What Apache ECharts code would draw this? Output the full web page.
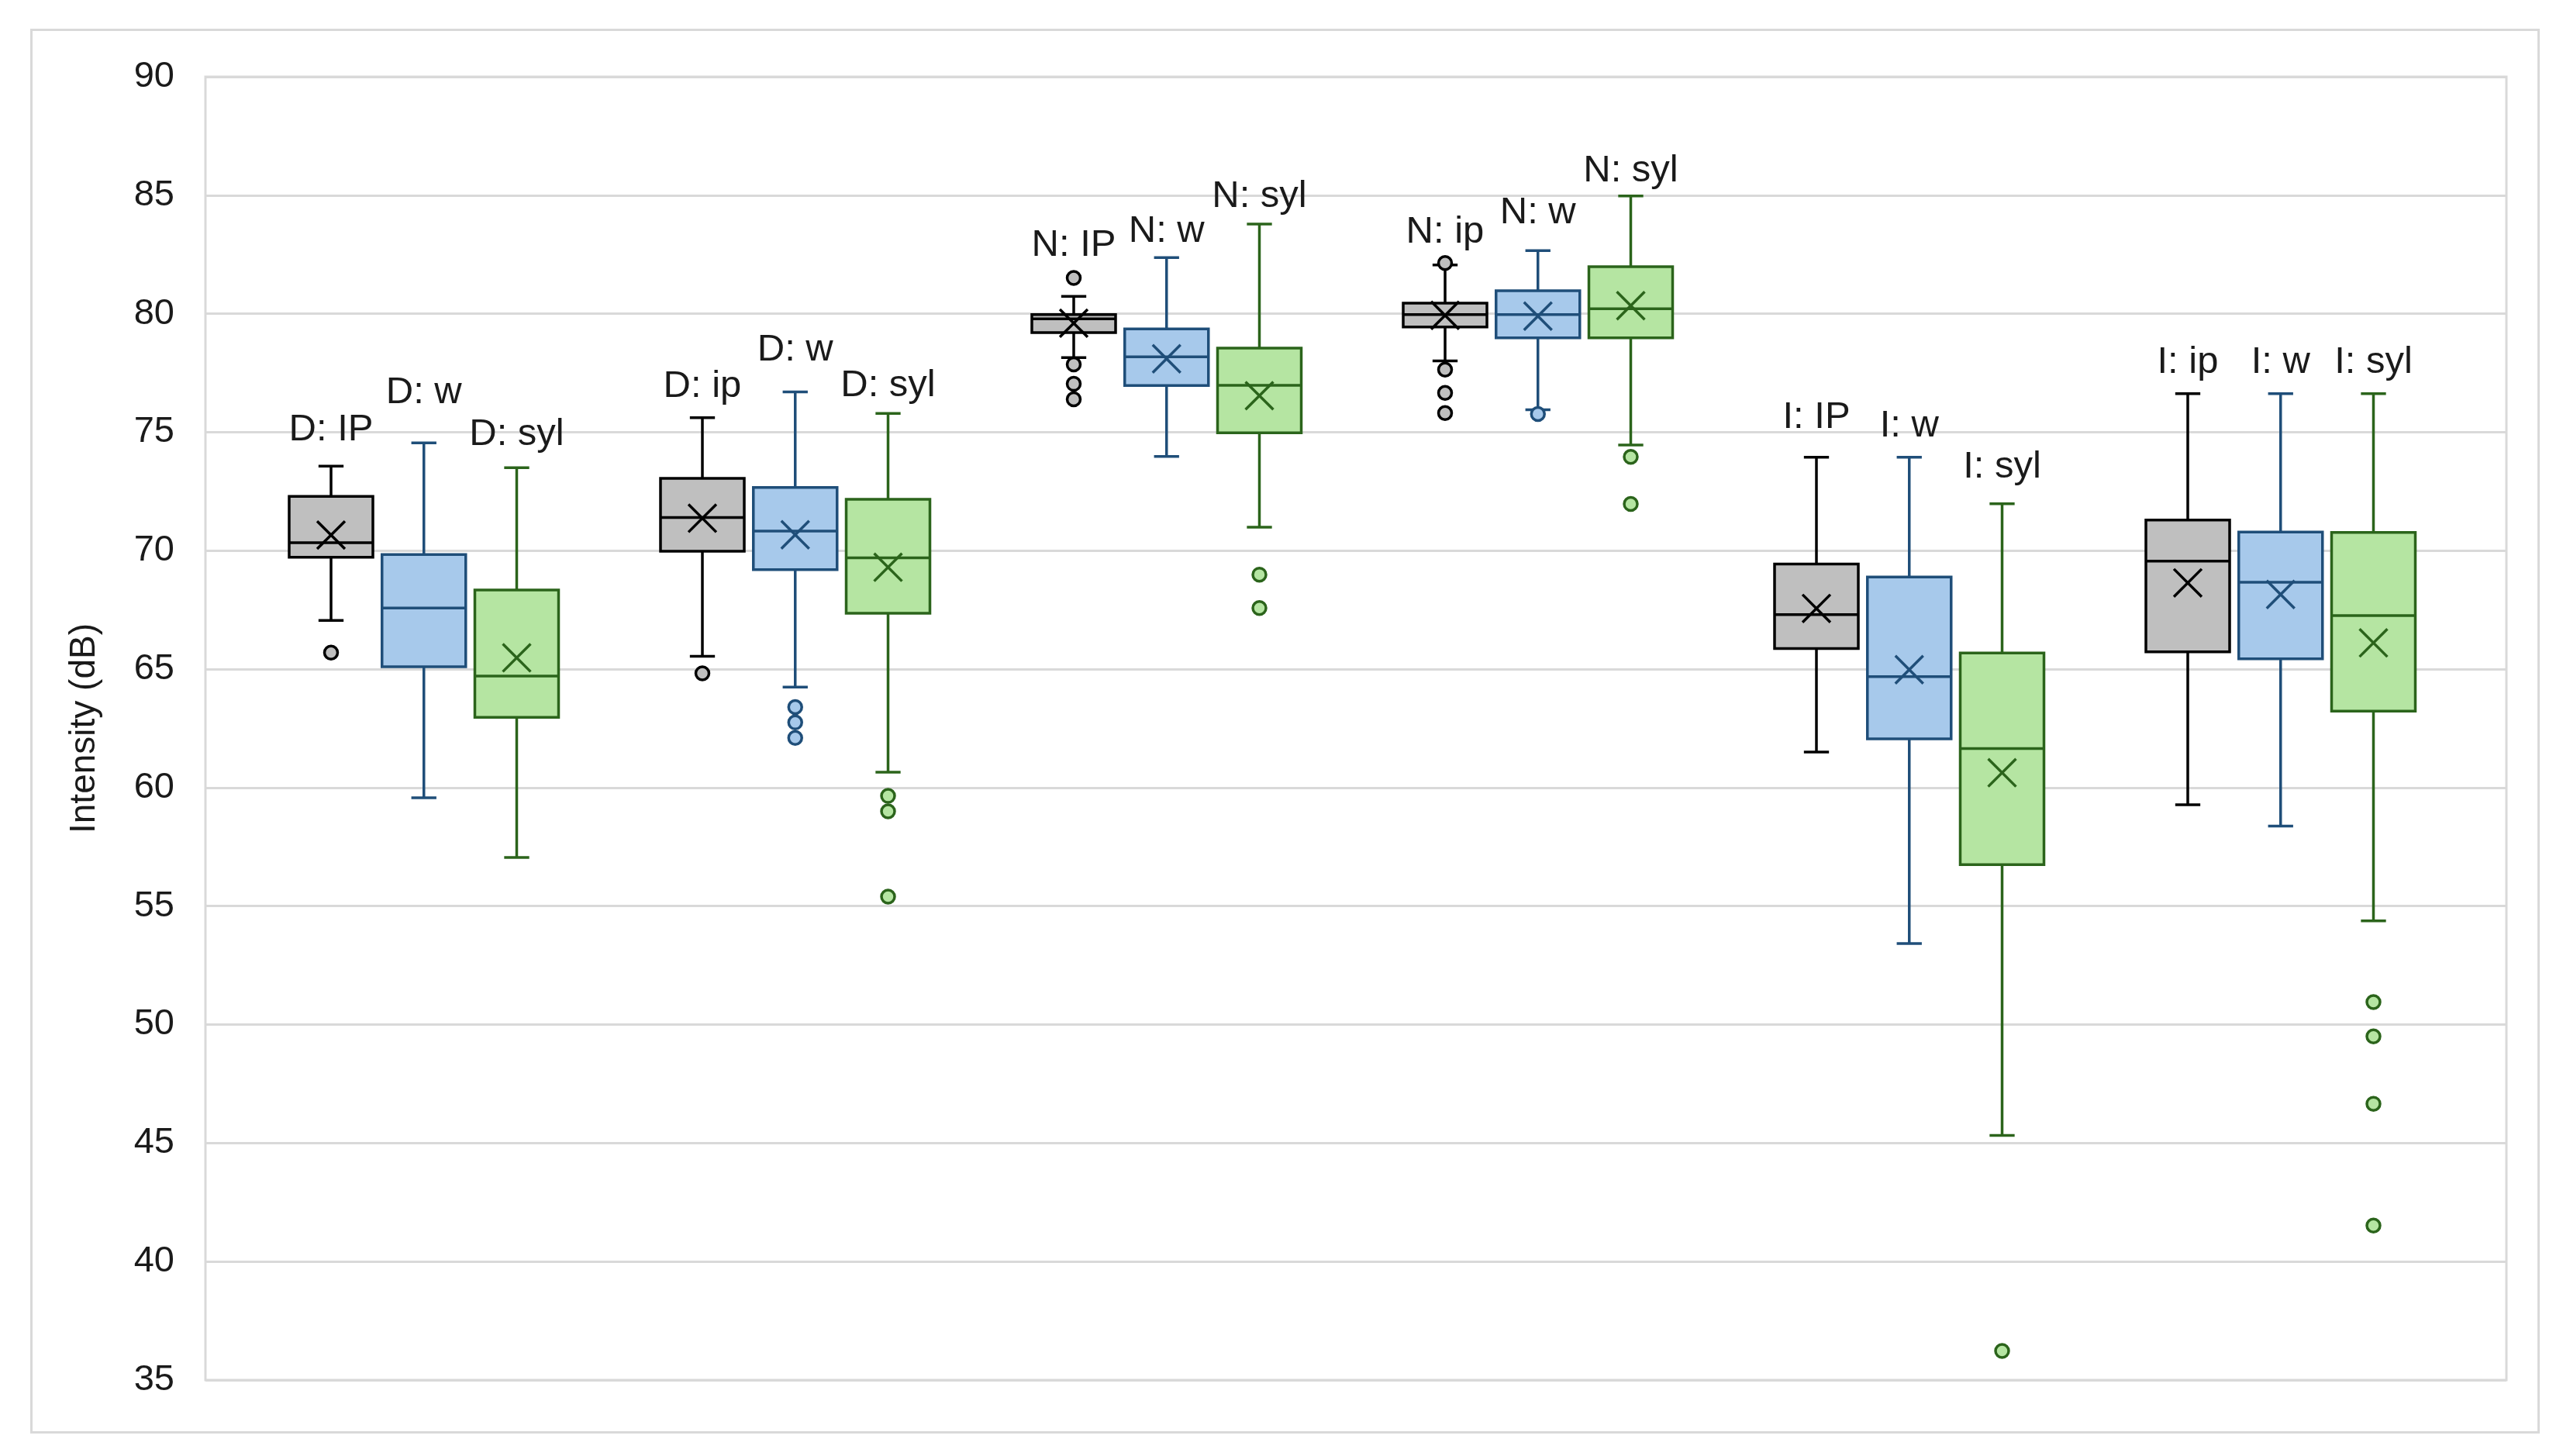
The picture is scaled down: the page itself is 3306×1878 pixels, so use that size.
<!DOCTYPE html>
<html>
<head>
<meta charset="utf-8">
<script src="https://cdn.jsdelivr.net/npm/echarts@6/dist/echarts.min.js"></script>
<style>
  html, body { margin: 0; padding: 0; background: #ffffff; }
  #chart { width: 3306px; height: 1878px; }
</style>
</head>
<body>
<div id="chart"></div>
<script>
// ---------------- data (dB) ----------------
// Three series per group: ip (grey), w (blue), syl (green); six groups left to right.
// Stats: [lower whisker, Q1, median, Q3, upper whisker]
const ipStats = [
  [67.06, 69.72, 70.34, 72.29, 73.57],
  [65.54, 69.98, 71.40, 73.05, 75.61],
  [78.15, 79.20, 79.78, 79.96, 80.73],
  [78.01, 79.44, 79.96, 80.45, 82.06],
  [61.50, 65.87, 67.30, 69.44, 73.94],
  [59.28, 65.73, 69.56, 71.29, 76.63]
];
const wStats = [
  [59.57, 65.10, 67.58, 69.84, 74.55],
  [64.24, 69.20, 70.83, 72.67, 76.70],
  [73.98, 76.97, 78.18, 79.36, 82.37],
  [75.95, 78.98, 79.96, 80.97, 82.66],
  [53.42, 62.06, 64.68, 68.89, 73.94],
  [58.38, 65.44, 68.67, 70.79, 76.63]
];
const sylStats = [
  [57.05, 62.97, 64.71, 68.34, 73.50],
  [60.65, 67.36, 69.70, 72.17, 75.79],
  [70.99, 74.97, 76.98, 78.55, 83.78],
  [74.46, 78.98, 80.21, 81.98, 84.97],
  [45.32, 56.75, 61.65, 65.68, 71.98],
  [54.38, 63.23, 67.26, 70.77, 76.63]
];
const ipMean  = [70.66, 71.37, 79.60, 79.93, 67.56, 68.64];
const wMean   = [null,  70.67, 78.10, 79.90, 64.98, 68.15];
const sylMean = [65.48, 69.30, 76.54, 80.34, 60.63, 66.11];

const ipOutliers  = [[65.70], [64.82], [81.51, 77.86, 77.04, 76.39], [82.14, 77.64, 76.66, 75.81], [], []];
const wOutliers   = [[], [63.40, 62.75, 62.10], [], [75.77], [], []];
const sylOutliers = [[], [59.65, 59.00, 55.40], [68.99, 67.58], [73.96, 71.97], [36.23], [50.95, 49.50, 46.66, 41.52]];

const ipLabels  = ['D: IP', 'D: ip', 'N: IP', 'N: ip', 'I: IP', 'I: ip'];
const wLabels   = ['D: w', 'D: w', 'N: w', 'N: w', 'I: w', 'I: w'];
const sylLabels = ['D: syl', 'D: syl', 'N: syl', 'N: syl', 'I: syl', 'I: syl'];
// value (dB) at which each text label sits
const ipLabelY  = [75.10, 76.94, 82.89, 83.44, 75.61, 77.95];
const wLabelY   = [76.68, 78.46, 83.46, 84.27, 75.27, 77.95];
const sylLabelY = [74.90, 76.96, 84.95, 86.02, 73.53, 77.95];

const yMin = 35, yMax = 90, yStep = 5;
const axisTitle = 'Intensity (dB)';

// ---------------- styling ----------------
const FONT = '"Liberation Sans", Arial, sans-serif';
const styles = [
  { stroke: '#000000', fill: '#bfbfbf' },
  { stroke: '#1f4e79', fill: '#a7c9eb' },
  { stroke: '#2b641b', fill: '#b5e5a2' }
];
const BOX_W = 0.902;   // fraction of one slot
const CAP_W = 0.27;
const MEAN_HALF = 0.15;
const LW = 3.5;

// each group occupies 4 slots: three boxes + a gap
function slotOf(g, k) { return g * 4 + k; }

function renderBox(st) {
  return function (params, api) {
    const x = api.value(0);
    const slot = api.size([1, 0])[0];
    const half = slot * BOX_W / 2;
    const capHalf = slot * CAP_W / 2;
    const pMin = api.coord([x, api.value(1)]);
    const pQ1 = api.coord([x, api.value(2)]);
    const pMed = api.coord([x, api.value(3)]);
    const pQ3 = api.coord([x, api.value(4)]);
    const pMax = api.coord([x, api.value(5)]);
    const cx = pMin[0];
    const ls = { stroke: st.stroke, lineWidth: LW };
    const children = [
      { type: 'line', shape: { x1: cx, y1: pMax[1], x2: cx, y2: pQ3[1] }, style: ls },
      { type: 'line', shape: { x1: cx, y1: pQ1[1], x2: cx, y2: pMin[1] }, style: ls },
      { type: 'line', shape: { x1: cx - capHalf, y1: pMax[1], x2: cx + capHalf, y2: pMax[1] }, style: ls },
      { type: 'line', shape: { x1: cx - capHalf, y1: pMin[1], x2: cx + capHalf, y2: pMin[1] }, style: ls },
      { type: 'rect', shape: { x: cx - half, y: pQ3[1], width: half * 2, height: pQ1[1] - pQ3[1] },
        style: { fill: st.fill, stroke: st.stroke, lineWidth: LW } },
      { type: 'line', shape: { x1: cx - half, y1: pMed[1], x2: cx + half, y2: pMed[1] }, style: ls }
    ];
    const mean = api.value(6);
    if (mean != null && !isNaN(mean)) {
      const pM = api.coord([x, mean]);
      const m = slot * MEAN_HALF;
      children.push(
        { type: 'line', shape: { x1: pM[0] - m, y1: pM[1] - m, x2: pM[0] + m, y2: pM[1] + m }, style: ls },
        { type: 'line', shape: { x1: pM[0] - m, y1: pM[1] + m, x2: pM[0] + m, y2: pM[1] - m }, style: ls }
      );
    }
    return { type: 'group', children: children };
  };
}

function renderLabel(params, api) {
  const p = api.coord([api.value(0), api.value(1)]);
  return {
    type: 'text',
    x: p[0], y: p[1],
    style: { text: labelTextAt(params.dataIndex, params.seriesIndex), fill: '#1a1a1a',
             font: '49px ' + FONT, align: 'center', verticalAlign: 'middle' }
  };
}

const allStats = [ipStats, wStats, sylStats];
const allMeans = [ipMean, wMean, sylMean];
const allOut = [ipOutliers, wOutliers, sylOutliers];
const allLabels = [ipLabels, wLabels, sylLabels];
const allLabelY = [ipLabelY, wLabelY, sylLabelY];
const labelSeriesIndex = {};
function labelTextAt(i, sIdx) { return allLabels[labelSeriesIndex[sIdx]][i]; }

const series = [];
for (let k = 0; k < 3; k++) {
  series.push({
    type: 'custom', name: ['ip', 'w', 'syl'][k],
    xAxisIndex: 1, yAxisIndex: 1,
    renderItem: renderBox(styles[k]),
    data: allStats[k].map((s, g) => [slotOf(g, k), s[0], s[1], s[2], s[3], s[4],
                                     allMeans[k][g] == null ? NaN : allMeans[k][g]]),
    z: 2
  });
}
for (let k = 0; k < 3; k++) {
  const pts = [];
  allOut[k].forEach((arr, g) => arr.forEach(v => pts.push([slotOf(g, k), v])));
  series.push({
    type: 'scatter', xAxisIndex: 1, yAxisIndex: 1,
    symbol: 'circle', symbolSize: 17,
    itemStyle: { color: styles[k].fill, borderColor: styles[k].stroke, borderWidth: 3.5, opacity: 1 },
    data: pts, z: 3
  });
}
for (let k = 0; k < 3; k++) {
  labelSeriesIndex[series.length] = k;
  series.push({
    type: 'custom', xAxisIndex: 1, yAxisIndex: 1,
    renderItem: renderLabel,
    data: allLabelY[k].map((v, g) => [slotOf(g, k), v]),
    z: 4
  });
}

const chart = echarts.init(document.getElementById('chart'), null, { renderer: 'canvas' });
chart.setOption({
  animation: false,
  backgroundColor: '#ffffff',
  textStyle: { fontFamily: FONT },
  graphic: [{
    type: 'rect', left: 38, top: 36,
    shape: { width: 3234, height: 1809 },
    style: { fill: 'none', stroke: '#d9d9d9', lineWidth: 3 }, z: -1
  }],
  grid: [
    { left: 265, top: 99, width: 2968, height: 1681, show: true,
      borderColor: '#d9d9d9', borderWidth: 3, backgroundColor: 'transparent' },
    { left: 307.25, top: 99, width: 2874, height: 1681 }
  ],
  xAxis: [
    { gridIndex: 0, type: 'value', min: 0, max: 1, show: false },
    { gridIndex: 1, type: 'value', min: -1, max: 23, show: false }
  ],
  yAxis: [
    { gridIndex: 0, type: 'value', min: yMin, max: yMax, interval: yStep,
      axisLine: { show: false }, axisTick: { show: false },
      axisLabel: { fontSize: 47, color: '#1a1a1a', margin: 40, fontFamily: FONT },
      splitLine: { lineStyle: { color: '#d9d9d9', width: 3 } },
      name: axisTitle, nameLocation: 'middle', nameRotate: 90, nameGap: 133,
      nameTextStyle: { fontSize: 46, color: '#1a1a1a', fontFamily: FONT } },
    { gridIndex: 1, type: 'value', min: yMin, max: yMax, show: false }
  ],
  series: series
});
</script>
</body>
</html>
